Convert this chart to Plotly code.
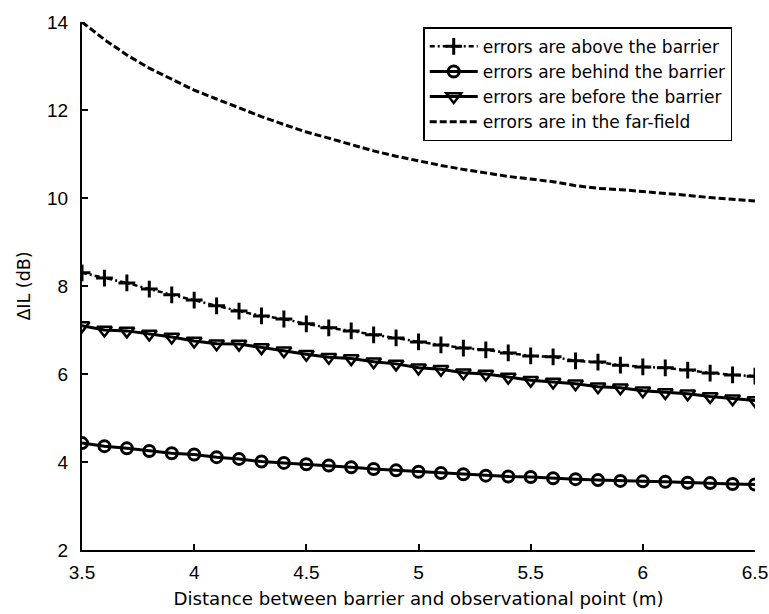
import plotly.graph_objects as go

x = [round(3.5 + 0.1 * i, 1) for i in range(31)]

above = [8.30, 8.18, 8.07, 7.93, 7.80, 7.68, 7.55, 7.43, 7.32, 7.25,
         7.14, 7.05, 6.98, 6.89, 6.82, 6.73, 6.66, 6.59, 6.55, 6.48,
         6.41, 6.39, 6.30, 6.27, 6.20, 6.16, 6.14, 6.09, 6.02, 5.98, 5.95]

behind = [4.43, 4.36, 4.31, 4.25, 4.20, 4.17, 4.11, 4.07, 4.01, 3.98,
          3.95, 3.92, 3.88, 3.84, 3.81, 3.78, 3.75, 3.72, 3.69, 3.67,
          3.66, 3.63, 3.61, 3.59, 3.57, 3.56, 3.55, 3.53, 3.52, 3.50, 3.49]

before = [7.10, 7.00, 6.98, 6.91, 6.84, 6.75, 6.69, 6.68, 6.60, 6.53,
          6.45, 6.38, 6.35, 6.28, 6.23, 6.14, 6.11, 6.03, 6.00, 5.93,
          5.86, 5.82, 5.78, 5.71, 5.69, 5.62, 5.58, 5.55, 5.49, 5.44, 5.40]

far_field = [14.00, 13.60, 13.25, 12.95, 12.70, 12.45, 12.25, 12.05, 11.85, 11.67,
             11.50, 11.36, 11.21, 11.07, 10.95, 10.84, 10.74, 10.65, 10.57, 10.49,
             10.43, 10.37, 10.28, 10.22, 10.19, 10.15, 10.10, 10.06, 10.01, 9.97, 9.93]

names = ["errors are above the barrier", "errors are behind the barrier",
         "errors are before the barrier", "errors are in the far-field"]

x_ticks = [3.5, 4, 4.5, 5, 5.5, 6, 6.5]
x_tick_text = ["3.5", "4", "4.5", "5", "5.5", "6", "6.5"]
y_ticks = [2, 4, 6, 8, 10, 12, 14]

fig = go.Figure()
fig.add_trace(go.Scatter(
    x=x, y=above, name=names[0], mode="lines+markers",
    line=dict(color="black", width=2.5, dash="5px,3px,2px,3px"),
    marker=dict(symbol="cross-thin-open", size=12, color="black",
                line=dict(color="black", width=3))))
fig.add_trace(go.Scatter(
    x=x, y=behind, name=names[1], mode="lines+markers",
    line=dict(color="black", width=3),
    marker=dict(symbol="circle-open", size=11, color="black",
                line=dict(color="black", width=3))))
fig.add_trace(go.Scatter(
    x=x, y=before, name=names[2], mode="lines+markers",
    line=dict(color="black", width=3),
    marker=dict(symbol="triangle-down-open", size=13, color="black",
                line=dict(color="black", width=2.5))))
fig.add_trace(go.Scatter(
    x=x, y=far_field, name=names[3], mode="lines",
    line=dict(color="black", width=3, dash="7px,3px")))

fig.update_layout(
    width=769, height=614,
    margin=dict(l=82, r=14, t=22, b=64, autoexpand=False),
    paper_bgcolor="white", plot_bgcolor="white",
    font=dict(family="Liberation Sans, Arial, sans-serif", color="black", size=19),
    showlegend=True,
    legend=dict(
        x=0.507, y=0.99, xanchor="left", yanchor="top",
        bordercolor="black", borderwidth=1.5, bgcolor="white",
        font=dict(family="DejaVu Sans, sans-serif", size=17, color="black"),
        itemwidth=48, tracegroupgap=0),
    xaxis=dict(
        range=[3.5, 6.5], tickvals=x_ticks, ticktext=x_tick_text,
        showline=True, linecolor="black", linewidth=2, mirror=False,
        ticks="inside", ticklen=6, tickwidth=1.5, tickcolor="black",
        showgrid=False, zeroline=False, ticklabelstandoff=4, automargin=False,
        title=dict(text="Distance between barrier and observational point (m)",
                   font=dict(family="DejaVu Sans, sans-serif", size=18.2),
                   standoff=10)),
    yaxis=dict(
        range=[2, 14], tickvals=y_ticks,
        showline=True, linecolor="black", linewidth=2, mirror=False,
        ticks="inside", ticklen=6, tickwidth=1.5, tickcolor="black",
        showgrid=False, zeroline=False, ticklabelstandoff=8, automargin=False,
        title=dict(text="ΔIL (dB)",
                   font=dict(family="DejaVu Sans, sans-serif", size=17.5),
                   standoff=12)),
)

fig.write_html("out.html")
